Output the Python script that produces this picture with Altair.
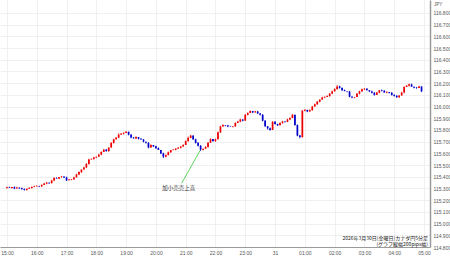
import altair as alt
import pandas as pd

# 5-minute candles of CAD/JPY, starting 15:00, closes
closes = [
    115.310, 115.305, 115.312, 115.300, 115.308, 115.302, 115.295, 115.288, 115.298, 115.305, 115.312, 115.318,
    115.322, 115.318, 115.330, 115.342, 115.350, 115.345, 115.368, 115.390, 115.385, 115.398, 115.402, 115.395,
    115.370, 115.376, 115.380, 115.395, 115.420, 115.440, 115.462, 115.480, 115.510, 115.548, 115.552, 115.565,
    115.572, 115.590, 115.612, 115.632, 115.620, 115.650, 115.690, 115.720, 115.735, 115.760, 115.768, 115.775,
    115.785, 115.760, 115.735, 115.728, 115.740, 115.725, 115.718, 115.700, 115.690, 115.650, 115.672, 115.660,
    115.645, 115.630, 115.600, 115.572, 115.585, 115.610, 115.628, 115.632, 115.640, 115.648, 115.660, 115.672,
    115.705, 115.732, 115.752, 115.720, 115.690, 115.665, 115.632, 115.640, 115.655, 115.690, 115.722, 115.705,
    115.720, 115.780, 115.830, 115.842, 115.838, 115.830, 115.828, 115.832, 115.860, 115.872, 115.890, 115.880,
    115.930, 115.945, 115.962, 115.950, 115.958, 115.942, 115.930, 115.880, 115.832, 115.815, 115.800, 115.870,
    115.852, 115.840, 115.860, 115.872, 115.868, 115.890, 115.902, 115.930, 115.842, 115.752, 115.740, 115.965,
    115.972, 115.958, 115.970, 116.000, 116.020, 116.042, 116.060, 116.078, 116.082, 116.090, 116.110, 116.130,
    116.150, 116.172, 116.160, 116.140, 116.132, 116.128, 116.085, 116.078, 116.082, 116.110, 116.130, 116.148,
    116.152, 116.140, 116.130, 116.118, 116.100, 116.120, 116.140, 116.135, 116.120, 116.125, 116.118, 116.100,
    116.092, 116.080, 116.095, 116.120, 116.168, 116.178, 116.190, 116.170, 116.162, 116.158, 116.172, 116.130,
]
first_open = 115.305

# wick lengths in pips (0.01 JPY)
up_wick = [
    1, 1, 0, 1, 1, 0, 1, 1, 0, 1, 1, 1,
    1, 0, 1, 1, 1, 0, 1, 1, 1, 0, 1, 0,
    1, 1, 0, 1, 1, 1, 0, 1, 1, 1, 1, 1,
    0, 1, 1, 1, 1, 0, 1, 1, 1, 2, 1, 1,
    1, 0, 1, 1, 1, 0, 1, 1, 0, 1, 1, 0,
    1, 1, 0, 1, 1, 1, 0, 1, 1, 1, 0, 1,
    1, 2, 1, 0, 1, 1, 1, 0, 1, 1, 1, 0,
    1, 1, 1, 1, 0, 1, 1, 0, 1, 1, 1, 0,
    1, 1, 1, 0, 1, 1, 0, 1, 1, 0, 1, 1,
    1, 0, 1, 1, 0, 1, 1, 1, 0, 1, 1, 1,
    1, 0, 1, 1, 1, 1, 0, 1, 1, 1, 1, 1,
    1, 2, 1, 0, 1, 0, 1, 1, 0, 1, 1, 1,
    1, 1, 0, 1, 1, 1, 0, 1, 1, 1, 0, 1,
    1, 1, 0, 1, 1, 1, 1, 1, 0, 1, 1, 0,
]
down_wick = [
    1, 0, 1, 1, 0, 1, 1, 1, 1, 0, 1, 0,
    0, 1, 1, 0, 1, 1, 0, 1, 0, 1, 1, 1,
    1, 0, 1, 1, 0, 1, 1, 0, 1, 1, 0, 1,
    1, 0, 1, 0, 1, 1, 0, 1, 0, 1, 0, 1,
    0, 1, 1, 0, 1, 1, 0, 1, 1, 1, 0, 1,
    1, 0, 1, 2, 1, 0, 1, 0, 1, 0, 1, 1,
    0, 1, 0, 1, 1, 1, 2, 1, 0, 1, 0, 1,
    1, 0, 1, 0, 1, 1, 0, 1, 1, 0, 1, 1,
    0, 1, 0, 1, 0, 1, 1, 1, 1, 2, 1, 0,
    1, 1, 0, 1, 1, 0, 1, 0, 1, 1, 2, 1,
    1, 1, 0, 1, 0, 1, 1, 0, 1, 0, 1, 0,
    0, 1, 1, 1, 0, 1, 1, 1, 1, 0, 1, 0,
    1, 0, 1, 1, 1, 0, 1, 1, 0, 1, 1, 1,
    1, 1, 1, 0, 1, 0, 1, 0, 1, 1, 0, 1,
]

hour_labels = ["15:00", "16:00", "17:00", "18:00", "19:00", "20:00", "21:00", "22:00",
               "23:00", "31", "01:00", "02:00", "03:00", "04:00", "05:00"]
price_ticks = [114.8, 114.9, 115.0, 115.1, 115.2, 115.3, 115.4, 115.5, 115.6, 115.7, 115.8,
               115.9, 116.0, 116.1, 116.2, 116.3, 116.4, 116.5, 116.6, 116.7, 116.8]

footer_lines = ["2026年3月30日(金曜日)カナダ円5分足", "(グラフ縦幅200pips幅)"]
annotation_text = "加小売売上高"
annotation_point = {"text_t": 346, "text_p": 115.305, "from_t": 352, "from_p": 115.345,
                    "to_t": 389, "to_p": 115.625}

rows = []
prev = first_open
for i, c in enumerate(closes):
    o = prev
    rows.append({
        "t": i * 5,
        "open": o,
        "close": c,
        "high": max(o, c) + up_wick[i] * 0.01 * 0.6,
        "low": min(o, c) - down_wick[i] * 0.01 * 0.6,
        "col": "#ee0000" if c >= o else "#0000cc",
    })
    prev = c
df = pd.DataFrame(rows)

FONT = "Liberation Sans"
CJK = "Noto Sans CJK JP"

xscale = alt.Scale(domain=[-3.93, 842.0], nice=False, zero=False)
yscale = alt.Scale(domain=[114.8, 116.911], nice=False, zero=False)

label_js = "[" + ",".join("'" + s + "'" for s in hour_labels) + "][round(datum.value/60)]"

XAXIS = alt.Axis(values=[k * 60 for k in range(len(hour_labels))],
                 labelExpr=label_js, title=None, grid=True, gridColor="#ececec",
                 gridWidth=0.8, domainColor="#9a9a9a", domainWidth=1,
                 ticks=False, labelFontSize=5, labelColor="#555555",
                 labelFont=FONT, labelPadding=3, labelFlush=False,
                 labelOverlap=False, labelBound=False)
YAXIS = alt.Axis(orient="right", values=price_ticks, format=".3f", title=None,
                 grid=True, gridColor="#ececec", gridWidth=0.8,
                 domainColor="#9a9a9a", domainWidth=1.5, ticks=False,
                 labelFontSize=5, labelColor="#555555", labelFont=FONT,
                 labelPadding=3, labelOverlap=False, labelFlush=False)


def X(field):
    return alt.X(field, scale=xscale, axis=XAXIS)


def Y(field):
    return alt.Y(field, scale=yscale, axis=YAXIS)


base = alt.Chart(df)

wicks = base.mark_rule(strokeWidth=0.8).encode(
    x=X("t:Q"), y=Y("low:Q"), y2="high:Q",
    color=alt.Color("col:N", scale=None),
)

bodies = base.mark_bar(size=1.7).encode(
    x=X("t:Q"), y=Y("open:Q"), y2="close:Q",
    color=alt.Color("col:N", scale=None),
)

ann_df = pd.DataFrame([annotation_point])
ann_line = alt.Chart(ann_df).mark_rule(color="#33cc33", strokeWidth=0.8).encode(
    x=X("from_t:Q"), y=Y("from_p:Q"), x2="to_t:Q", y2="to_p:Q",
)
ann_text = alt.Chart(pd.DataFrame([{**annotation_point, "label": annotation_text}])).mark_text(
    font=CJK, fontSize=5.5, color="#333333", align="center", baseline="middle"
).encode(
    x=X("text_t:Q"), y=Y("text_p:Q"), text="label:N",
)

foot1 = alt.Chart(pd.DataFrame({"s": [footer_lines[0]]})).mark_text(
    font=CJK, fontSize=5, color="#222222", align="right", baseline="middle"
).encode(x=alt.value(428), y=alt.value(237.5), text="s:N")
foot2 = alt.Chart(pd.DataFrame({"s": [footer_lines[1]]})).mark_text(
    font=CJK, fontSize=5, color="#222222", align="right", baseline="middle"
).encode(x=alt.value(428), y=alt.value(244), text="s:N")

jpy = alt.Chart(pd.DataFrame({"s": ["JPY"]})).mark_text(
    font=FONT, fontSize=4.5, color="#555555", align="left", baseline="middle"
).encode(x=alt.value(434), y=alt.value(5), text="s:N")

chart = alt.layer(wicks, bodies, ann_line, ann_text, foot1, foot2, jpy).properties(
    width=430, height=247,
    autosize=alt.AutoSizeParams(type="none"),
    padding={"left": 0, "top": 0, "right": 20, "bottom": 11},
    background="white",
).configure_view(stroke=None)

chart.save("out.html", embed_options={"renderer": "svg", "actions": False})
